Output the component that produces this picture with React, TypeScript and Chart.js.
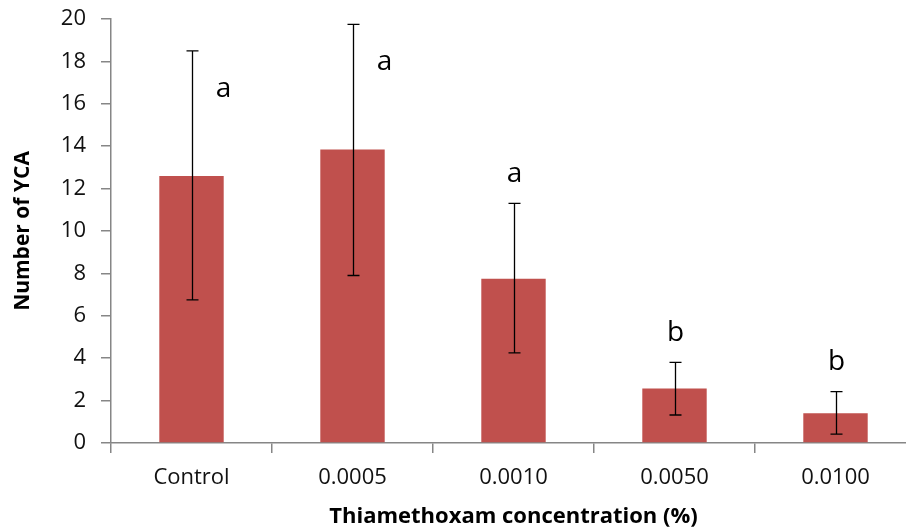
import React, { useEffect, useRef } from 'react';
import { Chart, registerables } from 'chart.js';

Chart.register(...registerables);

const categories = ['Control', '0.0005', '0.0010', '0.0050', '0.0100'];
const means = [12.6, 13.85, 7.75, 2.57, 1.4];
const errLow = [6.75, 7.9, 4.25, 1.32, 0.42];
const errHigh = [18.5, 19.75, 11.3, 3.8, 2.42];
const groupLetters = ['a', 'a', 'a', 'b', 'b'];
const yTickMin = 0;
const yTickMax = 20;
const yTickStep = 2;

const FONT = '"Open Sans", "DejaVu Sans", sans-serif';

export default function App() {
  const ref = useRef<HTMLCanvasElement>(null);

  useEffect(() => {
    const canvas = ref.current;
    if (!canvas) return;

    const errorPlugin = {
      id: 'errorBarsAndLetters',
      afterDatasetsDraw(chart: any) {
        const { ctx, scales } = chart;
        const x = scales.x;
        const y = scales.y;
        ctx.save();
        ctx.strokeStyle = '#000000';
        ctx.lineWidth = 1.3;
        categories.forEach((_, i) => {
          const cx = Math.round(x.getPixelForValue(i)) + 0.5;
          const yl = y.getPixelForValue(errLow[i]);
          const yh = y.getPixelForValue(errHigh[i]);
          ctx.beginPath();
          ctx.moveTo(cx, yl);
          ctx.lineTo(cx, yh);
          ctx.moveTo(cx - 6, yh);
          ctx.lineTo(cx + 6, yh);
          ctx.moveTo(cx - 6, yl);
          ctx.lineTo(cx + 6, yl);
          ctx.stroke();

          // significance letter: above the error bar, or beside it when near the top
          const nearTop = errHigh[i] + 1.4 > 19;
          const lv = nearTop ? errHigh[i] - 1.8 : errHigh[i] + 1.4;
          const lx = nearTop ? cx + 31 : cx;
          ctx.fillStyle = '#000000';
          ctx.font = `500 28px ${FONT}`;
          ctx.textAlign = 'center';
          ctx.textBaseline = 'middle';
          ctx.fillText(groupLetters[i], lx, y.getPixelForValue(lv));
        });
        ctx.restore();
      },
    };

    const chart = new Chart(canvas, {
      type: 'bar',
      data: {
        labels: categories,
        datasets: [
          {
            data: means,
            backgroundColor: '#C0504D',
            borderWidth: 0,
            barPercentage: 0.4,
            categoryPercentage: 1,
          },
        ],
      },
      options: {
        responsive: false,
        animation: false,
        layout: { padding: { top: 19, right: 0, left: 0, bottom: 0 } },
        plugins: {
          legend: { display: false },
          tooltip: { enabled: false },
        },
        scales: {
          x: {
            offset: true,
            grid: {
              offset: true,
              drawOnChartArea: false,
              color: '#868686',
              tickLength: 10,
              lineWidth: 1.5,
            },
            border: { color: '#868686', width: 1.5 },
            ticks: {
              color: '#111111',
              font: { family: FONT, size: 22 },
              padding: 12,
              maxRotation: 0,
            },
            title: {
              display: true,
              text: 'Thiamethoxam concentration (%)',
              color: '#000000',
              font: { family: FONT, size: 22, weight: 'bold' },
              padding: { top: 4, bottom: 1 },
            },
            afterFit(scale: any) {
              scale.height = 88;
              scale.paddingLeft = 0;
              scale.paddingRight = 0;
            },
          },
          y: {
            min: yTickMin,
            max: yTickMax,
            grid: {
              drawOnChartArea: false,
              color: '#868686',
              tickLength: 10,
              lineWidth: 1.5,
            },
            border: { color: '#868686', width: 1.5 },
            ticks: {
              stepSize: yTickStep,
              color: '#111111',
              font: { family: FONT, size: 22 },
              padding: 15,
            },
            title: {
              display: true,
              text: 'Number of YCA',
              color: '#000000',
              font: { family: FONT, size: 21, weight: 'bold' },
              padding: { top: 10, bottom: 2 },
            },
            afterFit(scale: any) {
              scale.width = 111;
              scale.paddingTop = 0;
              scale.paddingBottom = 0;
            },
          },
        },
      },
      plugins: [errorPlugin],
    } as any);

    return () => chart.destroy();
  }, []);

  return (
    <div
      style={{
        position: 'absolute',
        left: 0,
        top: 0,
        width: 906,
        height: 531,
        overflow: 'hidden',
        background: '#ffffff',
      }}
    >
      <canvas ref={ref} width={916} height={531} />
    </div>
  );
}
